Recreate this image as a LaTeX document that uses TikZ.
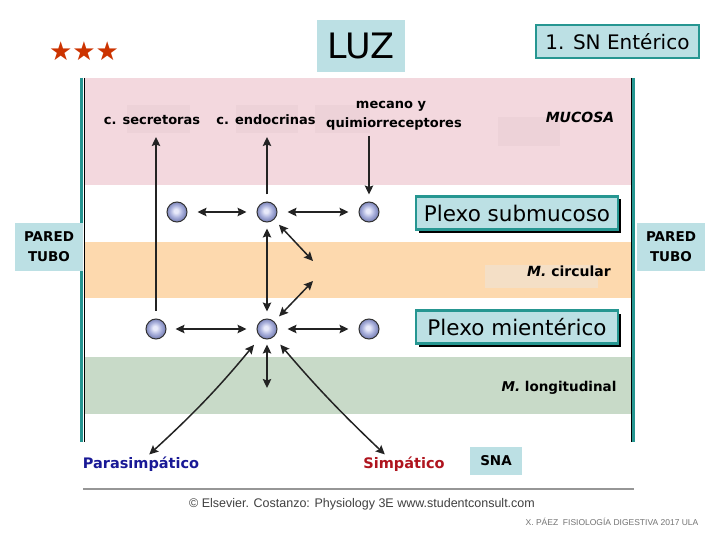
\documentclass[tikz,border=0pt]{standalone}
\usepackage{fontspec}
\setmainfont{DejaVu Sans}
\newfontfamily\libsans{Liberation Sans}
\usetikzlibrary{arrows.meta,shadows}
\definecolor{pinkband}{RGB}{243,216,222}
\definecolor{orangeband}{RGB}{253,217,174}
\definecolor{greenband}{RGB}{200,218,200}
\definecolor{faintpink}{RGB}{237,210,216}
\definecolor{faintorange}{RGB}{244,223,198}
\definecolor{boxblue}{RGB}{188,224,228}
\definecolor{tealb}{RGB}{38,150,145}
\definecolor{starred}{RGB}{204,51,0}
\definecolor{parablue}{RGB}{25,25,150}
\definecolor{simpred}{RGB}{175,20,30}
\definecolor{neurA}{RGB}{232,234,250}
\definecolor{neurB}{RGB}{170,177,220}
\definecolor{neurC}{RGB}{125,133,185}
\definecolor{lgray}{RGB}{150,150,150}
\definecolor{arrcol}{RGB}{35,35,35}
\pgfdeclareradialshading{neuronshade}{\pgfpoint{-3bp}{3bp}}{color(0bp)=(neurA); color(5bp)=(neurA); color(15bp)=(neurB); color(24bp)=(neurC); color(50bp)=(neurC)}
\tikzset{
  tip/.tip={Stealth[length=9pt,width=8.5pt,inset=1.5pt]},
  arr/.style={-tip, line width=1.5pt, draw=arrcol},
  dbl/.style={tip-tip, line width=1.5pt, draw=arrcol},
  neur/.style={circle, minimum size=20pt, inner sep=0pt, draw=black!80, line width=1pt, shading=neuronshade},
  lbl/.style={inner sep=0pt, font=\bfseries\fontsize{13}{15}\selectfont, anchor=base},
  plexbox/.style={draw=tealb, line width=2.5pt, fill=boxblue, minimum width=202pt, minimum height=33pt, inner sep=0pt,
    font=\fontsize{21.5}{24}\selectfont, drop shadow={shadow xshift=3pt, shadow yshift=-3pt, fill=black, opacity=1}},
  bluebox/.style={fill=boxblue, inner sep=0pt},
  paredbox/.style={bluebox, minimum width=68pt, minimum height=47pt, align=center, font=\bfseries\fontsize{13.5}{20}\selectfont},
}
\begin{document}
\begin{tikzpicture}[x=1pt,y=-1pt]
\useasboundingbox (0,0) rectangle (720,540);
\fill[white] (0,0) rectangle (720,540);
% bands
\fill[pinkband] (84,78) rectangle (632,185);
\fill[orangeband] (84,242) rectangle (632,298);
\fill[greenband] (84,357) rectangle (632,414);
% faint boxes
\fill[faintpink] (127,105) rectangle (190,133);
\fill[faintpink] (236,105) rectangle (298,133);
\fill[faintpink] (315,105) rectangle (370,133);
\fill[faintpink] (498,117) rectangle (560,146);
\fill[faintorange] (485,265) rectangle (598,288);
% walls
\draw[tealb, line width=2.5pt] (81.5,78) -- (81.5,442);
\draw[black, line width=1pt] (84,78) -- (84,442);
\draw[black, line width=1pt] (631.5,78) -- (631.5,442);
\draw[tealb, line width=2.5pt] (633.5,78) -- (633.5,442);

% title items
\node[text=starred, font=\fontsize{26}{26}\selectfont, inner sep=0pt] (stars) at (84,51) {★★★};
\node[bluebox, minimum width=88pt, minimum height=52pt, font=\fontsize{35}{36}\selectfont] (luz) at (361,46) {LUZ};
\node[bluebox, draw=tealb, line width=2pt, minimum width=163pt, minimum height=33pt, font=\fontsize{20}{22}\selectfont] (sne) at (617.5,41.5) {1. SN Entérico};

% labels in mucosa
\node[lbl] (sec) at (152,125) {c. secretoras};
\node[lbl] (endo) at (266,125) {c. endocrinas};
\node[lbl] (mec) at (391,109) {mecano y};
\node[lbl] (qui) at (394,128) {quimiorreceptores};
\node[lbl, font=\bfseries\itshape\fontsize{14}{16}\selectfont] (muc) at (580,123) {MUCOSA};

% PARED TUBO
\node[paredbox] (pl) at (49,247) {PARED\\TUBO};
\node[paredbox] (pr) at (671,247) {PARED\\TUBO};

% plexus boxes
\node[plexbox] (psub) at (517,213) {Plexo submucoso};
\node[plexbox] (pmie) at (517,327) {Plexo mientérico};

% muscle labels
\node[lbl, font=\bfseries\fontsize{14}{16}\selectfont] (mcir) at (569,276) {\itshape M.\upshape\ circular};
\node[lbl, font=\bfseries\fontsize{13.5}{16}\selectfont] (mlon) at (559,391) {\itshape M.\upshape\ longitudinal};

% neurons
\node[neur] (n1) at (177,212) {};
\node[neur] (n2) at (267,212) {};
\node[neur] (n3) at (369,212) {};
\node[neur] (m1) at (156,329) {};
\node[neur] (m2) at (267,329) {};
\node[neur] (m3) at (369,329) {};

% free ends
\coordinate (secT) at (156,137);
\coordinate (endT) at (267,137);
\coordinate (quiB) at (369,136);
\coordinate (c1) at (313,261);
\coordinate (c2) at (313,281);
\coordinate (vb) at (267,388);

% SNA labels
\node[inner sep=0pt, text=parablue, font=\bfseries\fontsize{14.5}{16}\selectfont] (para) at (141,464) {Parasimpático};
\node[inner sep=0pt, text=simpred, font=\bfseries\fontsize{14.5}{16}\selectfont] (simp) at (404,464) {Simpático};
\node[bluebox, minimum width=52pt, minimum height=28pt, font=\bfseries\fontsize{13.5}{15}\selectfont] (sna) at (496,461) {SNA};

% connectors
\draw[dbl, shorten <=10pt, shorten >=10pt] (n1) -- (n2);
\draw[dbl, shorten <=10pt, shorten >=10pt] (n2) -- (n3);
\draw[dbl, shorten <=9pt, shorten >=10pt] (m1) -- (m2);
\draw[dbl, shorten <=10pt, shorten >=10pt] (m2) -- (m3);
\draw[dbl, shorten <=6pt, shorten >=7pt] (n2) -- (m2);
\draw[dbl, shorten <=7pt] (n2) -- (c1);
\draw[dbl, shorten >=7pt] (c2) -- (m2);
\draw[arr, shorten <=8pt] (m1) -- (secT);
\draw[arr, shorten <=7pt] (n2) -- (endT);
\draw[arr, shorten >=7pt] (quiB) -- (n3);
\draw[dbl, shorten <=5pt] (m2) -- (vb);
\draw[dbl, shorten <=10pt, shorten >=3pt] (m2) to[bend left=4] ([xshift=6pt]para.north);
\draw[dbl, shorten <=10pt, shorten >=3pt] (m2) to[bend right=3] ([xshift=-17pt]simp.north);

% footer
\draw[lgray, line width=1.5pt] (83,489) -- (634,489);
\node[inner sep=0pt, text=black!75, font=\libsans\fontsize{12.5}{14}\selectfont] (copy) at (362,504) {© Elsevier. Costanzo: Physiology 3E www.studentconsult.com};
\node[inner sep=0pt, text=black!55, font=\libsans\fontsize{8.5}{10}\selectfont] (paez) at (612,522) {X. PÁEZ\ \ FISIOLOGÍA DIGESTIVA 2017 ULA};
\end{tikzpicture}
\end{document}
